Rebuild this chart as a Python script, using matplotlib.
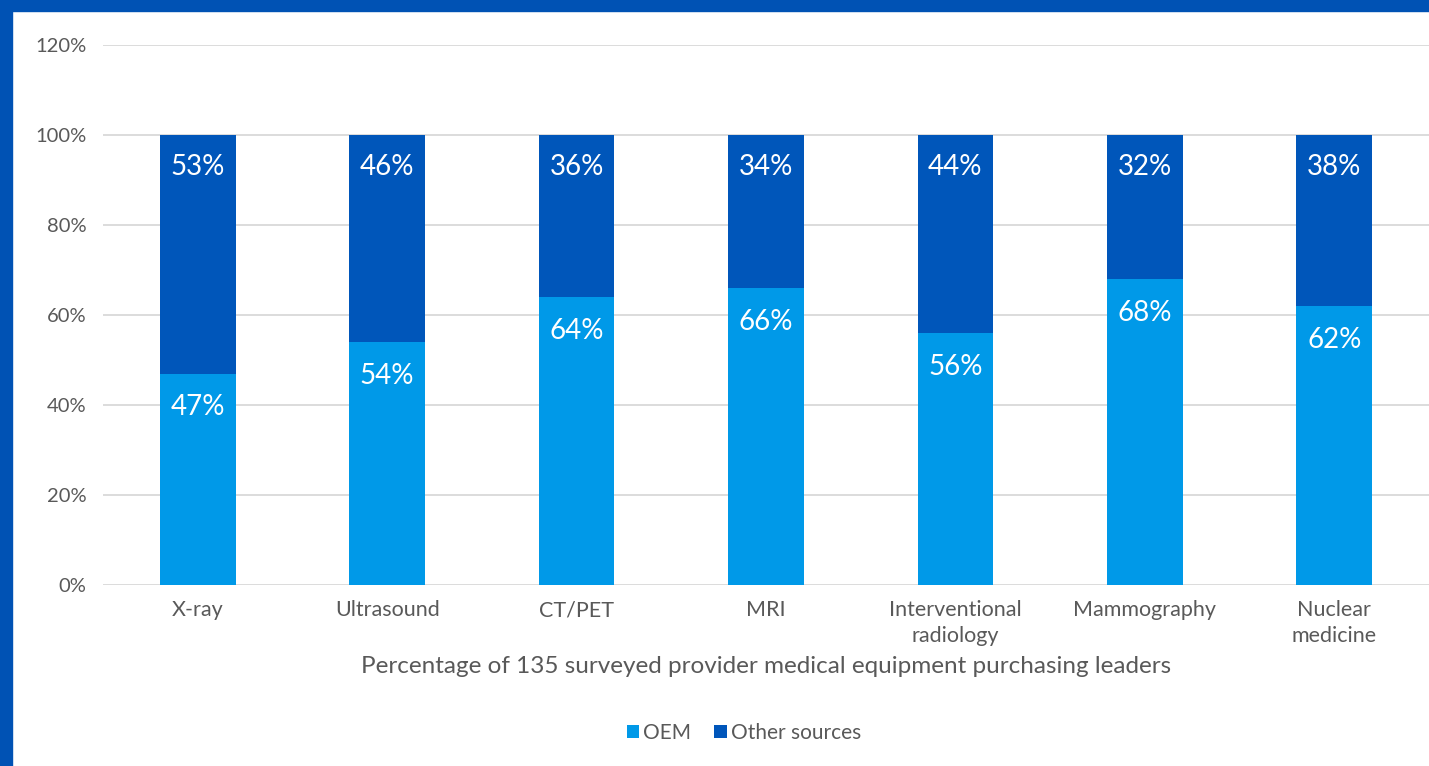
import matplotlib.pyplot as plt
from matplotlib.patches import Rectangle
import numpy as np

categories = ['X-ray', 'Ultrasound', 'CT/PET', 'MRI', 'Interventional\nradiology',
              'Mammography', 'Nuclear\nmedicine']
oem = [47, 54, 64, 66, 56, 68, 62]
other = [53, 46, 36, 34, 44, 32, 38]
yticks = [0, 20, 40, 60, 80, 100, 120]

light_blue = '#0099E8'
dark_blue = '#0056BA'
frame_blue = '#0052B4'
text_grey = '#595959'

plt.rcParams['font.family'] = ['Lato', 'DejaVu Sans']

fig = plt.figure(figsize=(14.29, 7.66), dpi=100)
ax = fig.add_axes([103 / 1429, 181 / 766, 1326 / 1429, 540 / 766])

x = np.arange(len(categories))
ax.bar(x, oem, 0.4, color=light_blue, label='OEM', zorder=2)
ax.bar(x, other, 0.4, bottom=oem, color=dark_blue, label='Other sources', zorder=2)

# value labels inside each segment
for i in range(len(categories)):
    ax.annotate(str(oem[i]) + '%', (x[i], oem[i]), xytext=(0, -15), textcoords='offset points',
                ha='center', va='top', color='white', fontsize=20)
    ax.annotate(str(other[i]) + '%', (x[i], oem[i] + other[i]), xytext=(0, -14),
                textcoords='offset points', ha='center', va='top', color='white', fontsize=20)

ax.set_xlim(-0.5, len(categories) - 0.5)
ax.set_ylim(0, 120)
ax.set_yticks(yticks)
ax.set_yticklabels([str(v) + '%' for v in yticks], fontsize=14.5, color=text_grey)
ax.set_xticks(x)
ax.set_xticklabels(categories, fontsize=15.5, color=text_grey, linespacing=1.35)
ax.tick_params(length=0, pad=12)
ax.tick_params(axis='x', pad=11)
ax.grid(axis='y', color='#D6D6D6', linewidth=1.2, zorder=0)
for s in ax.spines.values():
    s.set_visible(False)
ax.set_xlabel('Percentage of 135 surveyed provider medical equipment purchasing leaders',
              fontsize=17.5, color=text_grey, labelpad=7)

fig.legend(loc='center', bbox_to_anchor=(744 / 1429, 1 - 733 / 766), ncol=2, frameon=False,
           fontsize=15, handlelength=0.6, handleheight=0.6, handletextpad=0.2,
           columnspacing=1.1, labelcolor=text_grey)

# blue frame along the top and left edges
fig.patches.append(Rectangle((0, 1 - 11 / 766), 1, 11 / 766, transform=fig.transFigure,
                             color=frame_blue, zorder=0))
fig.patches.append(Rectangle((0, 0), 12 / 1429, 1, transform=fig.transFigure,
                             color=frame_blue, zorder=0))

fig.savefig('out.png', dpi=100)
